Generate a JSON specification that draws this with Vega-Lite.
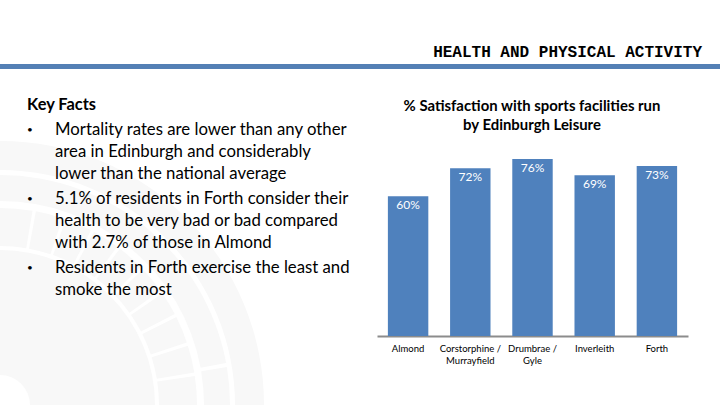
{
  "$schema": "https://vega.github.io/schema/vega-lite/v6.json",
  "width": 720,
  "height": 405,
  "autosize": "none",
  "padding": 0,
  "background": "white",
  "config": {"view": {"stroke": null}, "font": "Lato"},
  "datasets": {
    "satisfaction": [
      {"area": "Almond", "pct": 0.60},
      {"area": "Corstorphine / Murrayfield", "pct": 0.72},
      {"area": "Drumbrae / Gyle", "pct": 0.76},
      {"area": "Inverleith", "pct": 0.69},
      {"area": "Forth", "pct": 0.73}
    ],
    "bullets": [
      {"line": 1, "column": "bullet", "text": "•"},
      {"line": 4, "column": "bullet", "text": "•"},
      {"line": 7, "column": "bullet", "text": "•"}
    ],
    "facts": [
      {"line": 1, "column": "body", "text": "Mortality rates are lower than any other"},
      {"line": 2, "column": "body", "text": "area in Edinburgh and considerably"},
      {"line": 3, "column": "body", "text": "lower than the national average"},
      {"line": 4, "column": "body", "text": "5.1% of residents in Forth consider their"},
      {"line": 5, "column": "body", "text": "health to be very bad or bad compared"},
      {"line": 6, "column": "body", "text": "with 2.7% of those in Almond"},
      {"line": 7, "column": "body", "text": "Residents in Forth exercise the least and"},
      {"line": 8, "column": "body", "text": "smoke the most"}
    ],
    "watermark": [
      {"inner": 30, "outer": 155, "start": 0, "end": 90},
      {"inner": 159, "outer": 197, "start": 0, "end": 9.5},
      {"inner": 159, "outer": 197, "start": 10.5, "end": 18.5},
      {"inner": 159, "outer": 197, "start": 19.5, "end": 27.5},
      {"inner": 159, "outer": 197, "start": 28.5, "end": 36.5},
      {"inner": 159, "outer": 197, "start": 37.5, "end": 45.5},
      {"inner": 159, "outer": 197, "start": 46.5, "end": 54.5},
      {"inner": 159, "outer": 197, "start": 55.5, "end": 62.5},
      {"inner": 159, "outer": 197, "start": 63.5, "end": 71.5},
      {"inner": 159, "outer": 197, "start": 72.5, "end": 80.5},
      {"inner": 159, "outer": 197, "start": 81.5, "end": 90},
      {"inner": 204, "outer": 230, "start": 0, "end": 79.5},
      {"inner": 204, "outer": 230, "start": 80.5, "end": 90},
      {"inner": 235, "outer": 264, "start": 0, "end": 90}
    ]
  },
  "layer": [
    {
      "data": {"name": "watermark"},
      "mark": {"type": "arc", "color": "#F8F8F8"},
      "encoding": {
        "x": {"datum": 0, "type": "quantitative", "axis": null, "scale": {"domain": [0, 1], "range": [0, 720]}},
        "y": {"datum": 0, "type": "quantitative", "axis": null, "scale": {"domain": [0, 1], "range": [405, 0]}},
        "theta": {"field": "start", "type": "quantitative", "scale": {"domain": [0, 360], "range": [0, 6.28319]}},
        "theta2": {"field": "end"},
        "radius": {"field": "inner", "type": "quantitative", "scale": {"type": "linear", "domain": [0, 300], "range": [0, 300]}},
        "radius2": {"field": "outer"}
      }
    },
    {
      "data": {"values": [{"from": 0, "to": 1, "level": 0}]},
      "mark": {"type": "rule", "color": "#5480B5", "strokeWidth": 5},
      "encoding": {
        "x": {"field": "from", "type": "quantitative", "axis": null, "scale": {"domain": [0, 1], "range": [0, 720]}},
        "x2": {"field": "to"},
        "y": {"field": "level", "type": "quantitative", "axis": null, "scale": {"domain": [0, 1], "range": [66.5, 67.5]}}
      }
    },
    {
      "data": {"values": [{"text": "HEALTH AND PHYSICAL ACTIVITY", "side": 1, "level": 0}]},
      "mark": {"type": "text", "align": "right", "baseline": "alphabetic", "font": "Liberation Mono", "fontWeight": "bold", "fontSize": 16, "color": "#000000"},
      "encoding": {
        "x": {"field": "side", "type": "quantitative", "axis": null, "scale": {"domain": [0, 1], "range": [0, 702]}},
        "y": {"field": "level", "type": "quantitative", "axis": null, "scale": {"domain": [0, 1], "range": [57, 58]}},
        "text": {"field": "text"}
      }
    },
    {
      "data": {"values": [{"text": "Key Facts", "column": "bullet", "line": 0}]},
      "mark": {"type": "text", "align": "left", "baseline": "middle", "fontWeight": "bold", "fontSize": 16.4, "color": "#000000"},
      "encoding": {
        "x": {"field": "column", "type": "nominal", "axis": null, "scale": {"type": "point", "domain": ["bullet", "body"], "range": [27, 55], "padding": 0}},
        "y": {"field": "line", "type": "quantitative", "axis": null, "scale": {"domain": [0, 1, 2, 3, 4, 5, 6, 7, 8], "range": [105, 130, 152, 174, 199, 221, 243, 268, 290]}},
        "text": {"field": "text"}
      }
    },
    {
      "data": {"name": "bullets"},
      "mark": {"type": "text", "align": "center", "baseline": "middle", "fontSize": 10, "color": "#000000"},
      "encoding": {
        "x": {"field": "column", "type": "nominal", "axis": null, "scale": {"type": "point", "domain": ["bullet", "body"], "range": [30, 55], "padding": 0}},
        "y": {"field": "line", "type": "quantitative", "axis": null, "scale": {"domain": [0, 1, 2, 3, 4, 5, 6, 7, 8], "range": [105, 130, 152, 174, 199, 221, 243, 268, 290]}},
        "text": {"field": "text"}
      }
    },
    {
      "data": {"name": "facts"},
      "mark": {"type": "text", "align": "left", "baseline": "middle", "fontSize": 16.75, "color": "#000000"},
      "encoding": {
        "x": {"field": "column", "type": "nominal", "axis": null, "scale": {"type": "point", "domain": ["bullet", "body"], "range": [27, 55], "padding": 0}},
        "y": {"field": "line", "type": "quantitative", "axis": null, "scale": {"domain": [0, 1, 2, 3, 4, 5, 6, 7, 8], "range": [105, 130, 152, 174, 199, 221, 243, 268, 290]}},
        "text": {"field": "text"}
      }
    },
    {
      "data": {"values": [{"text": "% Satisfaction with sports facilities run", "line": 0, "side": 0}, {"text": "by Edinburgh Leisure", "line": 1, "side": 0}]},
      "mark": {"type": "text", "align": "center", "baseline": "middle", "fontWeight": "bold", "fontSize": 14.9, "color": "#000000"},
      "encoding": {
        "x": {"field": "side", "type": "quantitative", "axis": null, "scale": {"domain": [0, 1], "range": [532, 533]}},
        "y": {"field": "line", "type": "quantitative", "axis": null, "scale": {"domain": [0, 1], "range": [107, 126]}},
        "text": {"field": "text"}
      }
    },
    {
      "data": {"name": "satisfaction"},
      "encoding": {
        "x": {
          "field": "area", "type": "nominal", "sort": null, "title": null,
          "scale": {"range": [377, 688], "paddingInner": 0.35, "paddingOuter": 0.175},
          "axis": {
            "offset": -69, "domainColor": "#8C8C8C", "domainWidth": 2, "ticks": false, "labelAngle": 0,
            "labelFontSize": 9.5, "labelColor": "#000000", "labelPadding": 7, "labelLineHeight": 12, "labelOverlap": false, "labelLimit": 0,
            "labelExpr": "datum.label == 'Corstorphine / Murrayfield' ? ['Corstorphine /', 'Murrayfield'] : datum.label == 'Drumbrae / Gyle' ? ['Drumbrae /', 'Gyle'] : datum.label"
          }
        },
        "y": {"field": "pct", "type": "quantitative", "axis": null, "scale": {"domain": [0, 1], "range": [336, 103]}}
      },
      "layer": [
        {"mark": {"type": "bar", "color": "#4F81BD"}},
        {
          "mark": {"type": "text", "baseline": "middle", "dy": 9, "fontSize": 12, "color": "#FFFFFF"},
          "encoding": {"text": {"field": "pct", "type": "quantitative", "format": ".0%"}}
        }
      ]
    }
  ],
  "resolve": {"scale": {"x": "independent", "y": "independent"}, "axis": {"x": "independent", "y": "independent"}}
}
